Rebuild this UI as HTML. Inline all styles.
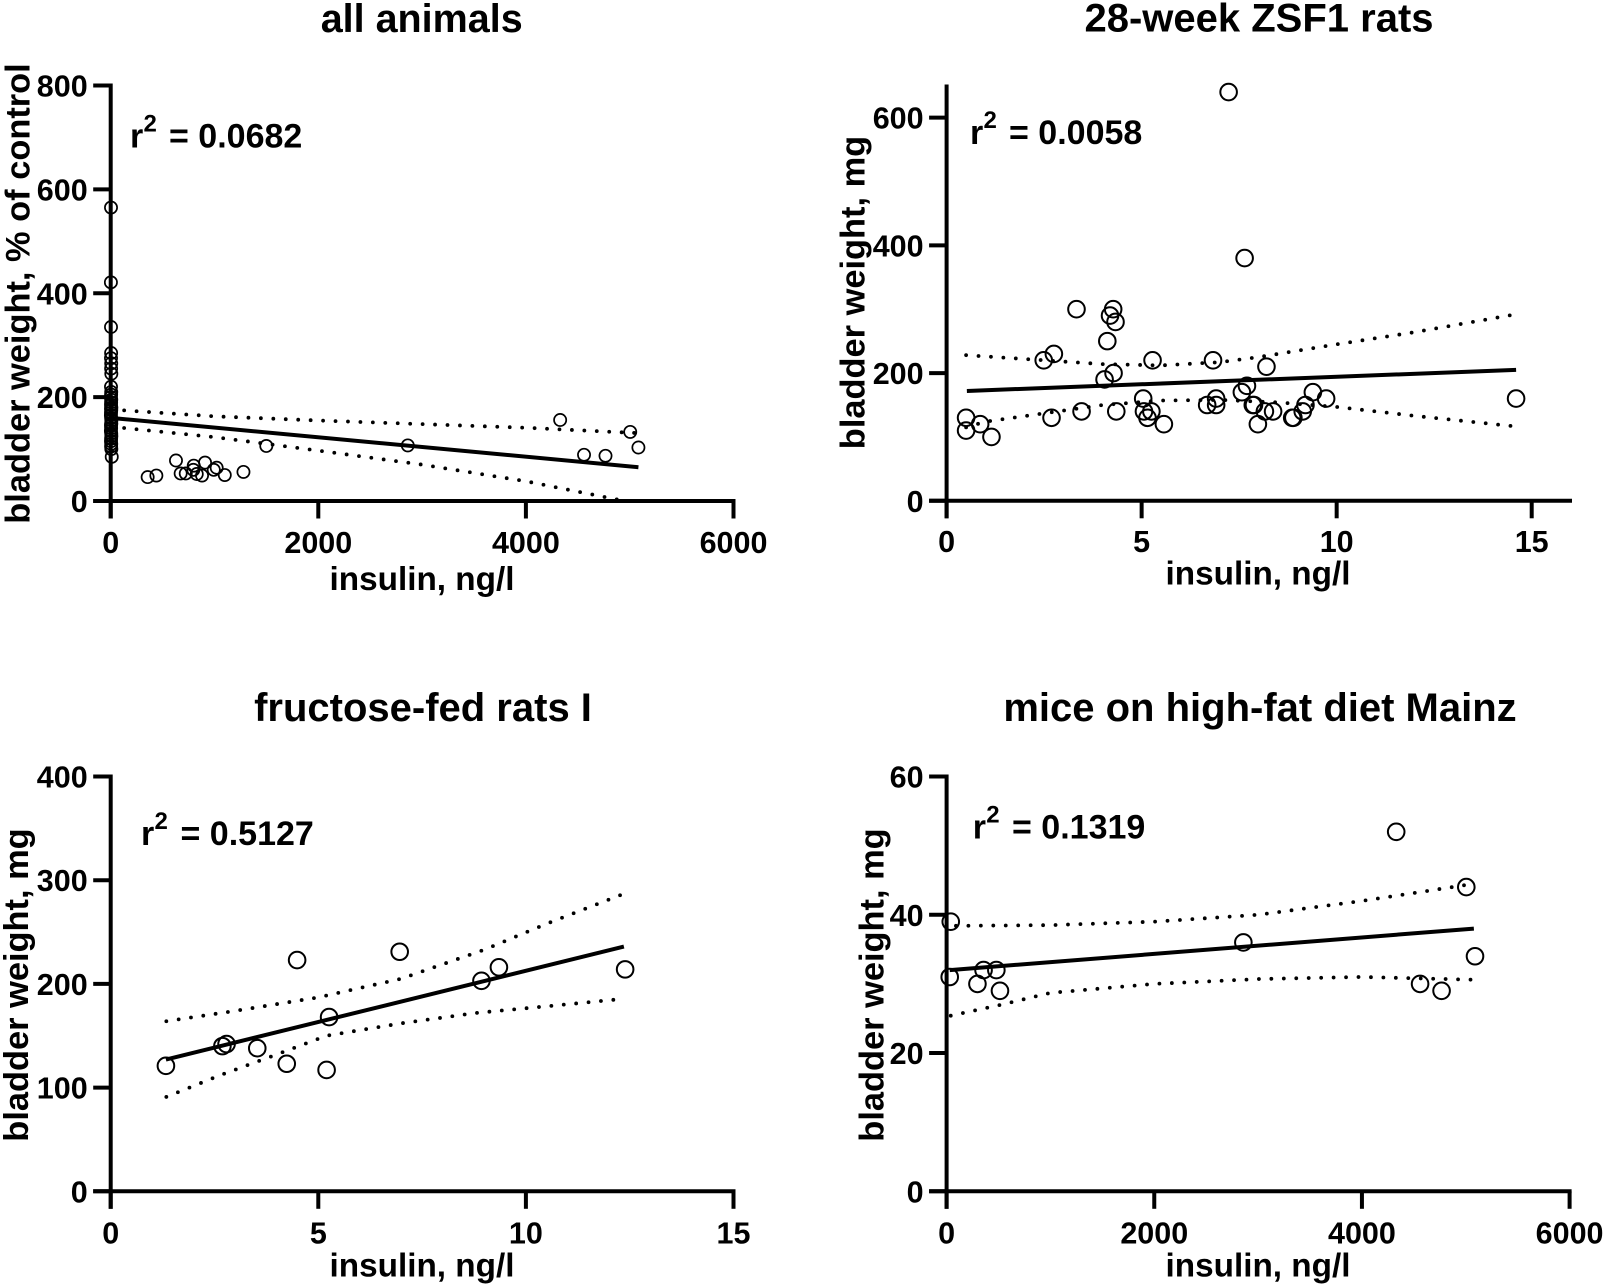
<!DOCTYPE html>
<html lang="en">
<head>
<meta charset="utf-8">
<title>Bladder weight vs insulin</title>
<style>
html,body{margin:0;padding:0;background:#fff;}
svg{display:block;}
text{font-family:"Liberation Sans",Arial,sans-serif;font-weight:bold;fill:#000;}
.title{font-size:40px;text-anchor:middle;}
.xlab{font-size:33.3px;text-anchor:middle;}
.ylab{font-size:34.4px;text-anchor:middle;}
.r2{font-size:34px;}
.r2s{font-size:24px;}
.tick{font-size:30.5px;}
</style>
</head>
<body>
<svg id="figure" xmlns="http://www.w3.org/2000/svg" width="1606" height="1286" viewBox="0 0 1606 1286">
  <rect width="1606" height="1286" fill="#fff"/>

  <g id="p1">
    <text class="title" style="font-size:39.5px" x="421.7" y="32">all animals</text>
    <text class="xlab" x="422" y="590">insulin, ng/l</text>
    <text class="ylab" transform="translate(29.5 293.5) rotate(-90)">bladder weight, % of control</text>
    <g>
      <text class="r2" x="130" y="147.5">r</text><text class="r2s" x="143.5" y="131.5">2</text><text class="r2" x="169" y="147.5">= 0.0682</text>
    </g>
  </g>

  <g id="p2">
    <text class="title" x="1259" y="31.5">28-week ZSF1 rats</text>
    <text class="xlab" x="1258" y="584.5">insulin, ng/l</text>
    <text class="ylab" transform="translate(864.5 292.5) rotate(-90)">bladder weight, mg</text>
    <g>
      <text class="r2" x="970" y="144">r</text><text class="r2s" x="983.5" y="128">2</text><text class="r2" x="1009" y="144">= 0.0058</text>
    </g>
  </g>

  <g id="p3">
    <text class="title" x="423" y="721">fructose-fed rats I</text>
    <text class="xlab" x="422" y="1276.5">insulin, ng/l</text>
    <text class="ylab" transform="translate(28 985) rotate(-90)">bladder weight, mg</text>
    <g>
      <text class="r2" x="141" y="845">r</text><text class="r2s" x="154.5" y="829">2</text><text class="r2" x="180.5" y="845">= 0.5127</text>
    </g>
  </g>

  <g id="p4">
    <text class="title" x="1260" y="721">mice on high-fat diet Mainz</text>
    <text class="xlab" x="1258" y="1276.5">insulin, ng/l</text>
    <text class="ylab" transform="translate(883.5 985) rotate(-90)">bladder weight, mg</text>
    <g>
      <text class="r2" x="972.8" y="838.7">r</text><text class="r2s" x="986.3" y="822.7">2</text><text class="r2" x="1012" y="838.7">= 0.1319</text>
    </g>
  </g>
</svg>

<script>
/* ---------- panel 1: all animals ---------- */
const allXTicks = [0, 2000, 4000, 6000];
const allYTicks = [0, 200, 400, 600, 800];
const allPointsX = [3,2,3,4,3,5,4,6,3,5,4,2,5,4,3,6,5,3,2,4,6,5,3,4,2,5,6,4,3,5,4,6,3,5,10,356,440,629,674,723,800,796,829,880,909,993,1021,1099,1279,1499,2862,4330,4560,4767,5005,5084];
const allPointsY = [565,421,335,285,275,265,255,245,220,210,205,200,195,190,185,180,175,170,165,160,155,150,145,140,135,130,125,120,115,110,105,100,178,148,85,46,49,78,53,53,68,60,52,49,74,60,64,50,56,106,107,156,89,87,133,103];
const allFitX = [0, 5084];
const allFitY = [160, 65];
const allBandUpperX = [10, 1000, 2000, 3000, 4000, 5050];
const allBandUpperY = [176, 163, 155, 148, 141, 131];
const allBandLowerX = [10, 1000, 2000, 3000, 4000, 4950];
const allBandLowerY = [143, 123, 97, 70, 38, 0];

/* ---------- panel 2: 28-week ZSF1 rats ---------- */
const zsfXTicks = [0, 5, 10, 15];
const zsfYTicks = [0, 200, 400, 600];
const zsfPointsX = [3.33,4.27,4.19,4.33,4.12,2.75,2.49,5.28,6.83,8.2,4.28,4.05,7.7,7.57,9.39,5.04,9.73,6.91,9.2,6.68,6.91,7.85,7.88,9.13,8.37,8.16,3.46,4.35,5.25,5.06,5.15,8.89,8.86,2.69,0.5,0.86,5.57,7.98,0.5,1.15,14.6,7.23,7.64];
const zsfPointsY = [300,300,290,280,250,230,220,220,220,210,200,190,180,170,170,160,160,160,150,150,150,150,150,140,140,140,140,140,140,140,130,130,130,130,130,120,120,120,110,100,160,640,380];
const zsfFitX = [0.52, 14.6];
const zsfFitY = [172, 205];
const zsfBandUpperX = [0.5, 2.5, 4, 5.5, 7, 8, 10, 12, 14.5];
const zsfBandUpperY = [228, 220, 214, 212, 217, 225, 245, 264, 291];
const zsfBandLowerX = [0.5, 1, 2.5, 4, 5.5, 7, 8.5, 10, 12, 14.5];
const zsfBandLowerY = [115, 124, 137, 150, 157, 158, 154, 147, 133, 117];

/* ---------- panel 3: fructose-fed rats I ---------- */
const fruXTicks = [0, 5, 10, 15];
const fruYTicks = [0, 100, 200, 300, 400];
const fruPointsX = [1.33,2.69,2.79,3.53,4.24,4.49,5.26,5.2,6.96,8.93,9.35,12.39];
const fruPointsY = [121,140,142,138,123,223,168,117,231,203,216,214];
const fruFitX = [1.33, 12.36];
const fruFitY = [127, 236];
const fruBandUpperX = [1.34, 3, 5, 7, 9, 10.5, 12.3];
const fruBandUpperY = [164, 174, 187, 205, 233, 258, 286];
const fruBandLowerX = [1.34, 2.64, 4, 5.2, 7, 8.8, 10.4, 12.2];
const fruBandLowerY = [91, 112, 132, 150, 162, 172, 178, 185];

/* ---------- panel 4: mice on high-fat diet Mainz ---------- */
const miceXTicks = [0, 2000, 4000, 6000];
const miceYTicks = [0, 20, 40, 60];
const micePointsX = [40,30,297,356,479,514,2858,4330,4560,4767,5005,5089];
const micePointsY = [39,31,30,32,32,29,36,52,30,29,44,34];
const miceFitX = [30, 5078];
const miceFitY = [32, 38];
const miceBandUpperX = [90, 1000, 2000, 3000, 4000, 5000];
const miceBandUpperY = [38.4, 38.5, 39, 40, 42, 44.3];
const miceBandLowerX = [40, 500, 1000, 2000, 3000, 4000, 5080];
const miceBandLowerY = [25.4, 26.9, 28.7, 30, 30.7, 31, 30.6];

const NS = 'http://www.w3.org/2000/svg';

function scale(d0, d1, r0, r1) {
  return function (v) { return r0 + (v - d0) * (r1 - r0) / (d1 - d0); };
}

function svgEl(tag, parent) {
  const el = document.createElementNS(NS, tag);
  parent.appendChild(el);
  return el;
}

function pathFrom(xs, ys, sx, sy) {
  return xs.map(function (x, i) {
    return (i ? 'L' : 'M') + sx(x).toFixed(2) + ' ' + sy(ys[i]).toFixed(2);
  }).join(' ');
}

function drawPanel(id, sx, sy, opt) {
  const root = document.getElementById(id);

  const bandU = svgEl('path', root);
  
  
  bandU.setAttribute('d', pathFrom(opt.upX, opt.upY, sx, sy));
  const bandL = svgEl('path', root);
  
  
  bandL.setAttribute('d', pathFrom(opt.loX, opt.loY, sx, sy));
  [bandU, bandL].forEach(function (b) {
    b.setAttribute('fill', 'none');
    b.setAttribute('stroke', '#000');
    b.setAttribute('stroke-width', '3.8');
    b.setAttribute('stroke-linecap', 'round');
    b.setAttribute('stroke-dasharray', '0 12.45');
  });

  const fit = svgEl('path', root);
  
  
  fit.setAttribute('d', pathFrom(opt.fitX, opt.fitY, sx, sy));
  fit.setAttribute('fill', 'none');
  fit.setAttribute('stroke', '#000');
  fit.setAttribute('stroke-width', '4');

  opt.ptX.forEach(function (x, i) {
    const c = svgEl('circle', root);
    
    
    c.setAttribute('cx', sx(x).toFixed(2));
    c.setAttribute('cy', sy(opt.ptY[i]).toFixed(2));
    c.setAttribute('r', opt.radius);
    c.setAttribute('fill', 'none');
    c.setAttribute('stroke', '#000');
    c.setAttribute('stroke-width', opt.ringWidth);
  });

  const xAxis = svgEl('line', root);
  
  
  xAxis.setAttribute('x1', sx(0) - opt.tick);
  xAxis.setAttribute('x2', opt.xEnd);
  xAxis.setAttribute('y1', sy(0));
  xAxis.setAttribute('y2', sy(0));
  xAxis.setAttribute('stroke', '#000');
  xAxis.setAttribute('stroke-width', '4');

  const yAxis = svgEl('line', root);
  
  
  yAxis.setAttribute('x1', sx(0));
  yAxis.setAttribute('x2', sx(0));
  yAxis.setAttribute('y1', opt.yEnd);
  yAxis.setAttribute('y2', sy(0) + opt.tick);
  yAxis.setAttribute('stroke', '#000');
  yAxis.setAttribute('stroke-width', '4');

  opt.xTicks.forEach(function (t) {
    const m = svgEl('line', root);
    
    
    m.setAttribute('x1', sx(t));
    m.setAttribute('x2', sx(t));
    m.setAttribute('y1', sy(0));
    m.setAttribute('y2', sy(0) + opt.tick);
    m.setAttribute('stroke', '#000');
    m.setAttribute('stroke-width', '4');
    const l = svgEl('text', root);
    
    
    l.setAttribute('class', 'tick');
    l.setAttribute('text-anchor', 'middle');
    l.setAttribute('x', sx(t));
    l.setAttribute('y', opt.xLabelY);
    l.textContent = String(t);
  });

  opt.yTicks.forEach(function (t) {
    const m = svgEl('line', root);
    
    
    m.setAttribute('x1', sx(0) - opt.tick);
    m.setAttribute('x2', sx(0));
    m.setAttribute('y1', sy(t));
    m.setAttribute('y2', sy(t));
    m.setAttribute('stroke', '#000');
    m.setAttribute('stroke-width', '4');
    const l = svgEl('text', root);
    
    
    l.setAttribute('class', 'tick');
    l.setAttribute('text-anchor', 'end');
    l.setAttribute('x', sx(0) - opt.tick - 5.5);
    l.setAttribute('y', sy(t) + 11);
    l.textContent = String(t);
  });
}

drawPanel('p1', scale(0, 6000, 110.7, 733.5), scale(0, 800, 501, 85.5), {
  ptX: allPointsX, ptY: allPointsY, fitX: allFitX, fitY: allFitY,
  upX: allBandUpperX, upY: allBandUpperY, loX: allBandLowerX, loY: allBandLowerY,
  xTicks: allXTicks, yTicks: allYTicks,
  radius: 6.1, ringWidth: 1.7, tick: 17.5, xEnd: 735.5, yEnd: 83.5, xLabelY: 553
});
drawPanel('p2', scale(0, 15, 946.6, 1531.7), scale(0, 600, 500.8, 117.6), {
  ptX: zsfPointsX, ptY: zsfPointsY, fitX: zsfFitX, fitY: zsfFitY,
  upX: zsfBandUpperX, upY: zsfBandUpperY, loX: zsfBandLowerX, loY: zsfBandLowerY,
  xTicks: zsfXTicks, yTicks: zsfYTicks,
  radius: 8.3, ringWidth: 2, tick: 17.5, xEnd: 1572, yEnd: 84.5, xLabelY: 552
});
drawPanel('p3', scale(0, 15, 110.7, 733.5), scale(0, 400, 1191.3, 776.5), {
  ptX: fruPointsX, ptY: fruPointsY, fitX: fruFitX, fitY: fruFitY,
  upX: fruBandUpperX, upY: fruBandUpperY, loX: fruBandLowerX, loY: fruBandLowerY,
  xTicks: fruXTicks, yTicks: fruYTicks,
  radius: 8.3, ringWidth: 2, tick: 17.5, xEnd: 735.5, yEnd: 774.5, xLabelY: 1243.5
});
drawPanel('p4', scale(0, 6000, 946.6, 1569.6), scale(0, 60, 1191.3, 776.5), {
  ptX: micePointsX, ptY: micePointsY, fitX: miceFitX, fitY: miceFitY,
  upX: miceBandUpperX, upY: miceBandUpperY, loX: miceBandLowerX, loY: miceBandLowerY,
  xTicks: miceXTicks, yTicks: miceYTicks,
  radius: 8.3, ringWidth: 2, tick: 17.5, xEnd: 1571.6, yEnd: 774.5, xLabelY: 1243.5
});
</script>
</body>
</html>
